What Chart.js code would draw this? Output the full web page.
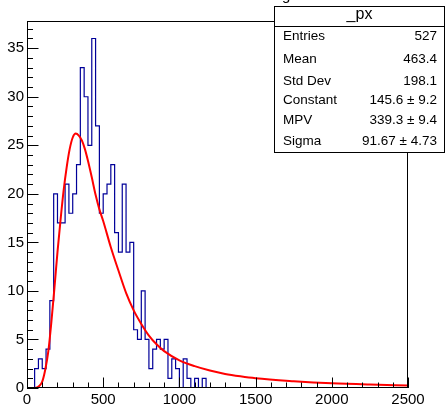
<!DOCTYPE html>
<html><head><meta charset="utf-8">
<script src="https://cdn.jsdelivr.net/npm/chart.js@4/dist/chart.umd.min.js"></script>
<style>html,body{margin:0;padding:0;background:#fff}#wrap{width:445px;height:406px;position:relative}</style>
</head><body><div id="wrap"><canvas id="c" width="445" height="406"></canvas></div>
<script>
// ---- data ----
const binStarts = [0,25,50,75,100,125,150,175,200,225,250,275,300,325,350,375,400,425,450,475,500,525,550,575,600,625,650,675,700,725,750,775,800,825,850,875,900,925,950,975,1000,1025,1050,1075,1100,1125,1150];
const binEnd = 1175;
const counts = [0,0,2,3,2,4,9,20,17,17,21,18,20,23,33,30,25,36,27,18,20,21,23,16,14,21,14,15,6,5,10,5,2,4,5,4,5,1,3,2,0,3,1,0,1,0,1];
const fitX = [40,60,80,100,120,140,160,180,200,220,240,260,280,300,320,340,360,380,400,425,450,475,500,550,600,650,700,750,800,850,900,1000,1100,1200,1300,1400,1500,1750,2000,2250,2500];
const fitY = [0,0.02,0.2,0.65,1.9,3.8,6.8,10.3,14.0,17.3,20.3,22.7,24.6,25.8,26.2,26.0,25.5,24.6,23.4,21.7,19.9,18.4,17.2,14.5,12.1,9.8,8.0,6.6,5.4,4.5,3.8,2.85,2.25,1.8,1.45,1.2,1.0,0.7,0.48,0.35,0.26];
const xTickValues = [0,500,1000,1500,2000,2500];
const yTickValues = [0,5,10,15,20,25,30,35];
const statsTitle = "_px";
const statsLabels = ["Entries","Mean","Std Dev","Constant","MPV","Sigma"];
const statsValues = ["527","463.4","198.1","145.6 \u00b1 9.2","339.3 \u00b1 9.4","91.67 \u00b1 4.73"];
const titleFragment = "g";

const histPoints = binStarts.map((x,i)=>({x:x,y:counts[i]})).concat([{x:binEnd,y:0}]);
const fitPoints = fitX.map((x,i)=>({x:x,y:fitY[i]}));

const FONT = "Liberation Sans, Arial, Helvetica, sans-serif";

const rootPlugin = {
  id:'rootStyle',
  afterDatasetsDraw(chart){
    const c = chart.ctx, a = chart.chartArea, xs = chart.scales.x, ys = chart.scales.y;
    c.save();
    c.strokeStyle = '#000'; c.lineWidth = 1;
    // frame
    c.strokeRect(Math.round(a.left)+0.5, Math.round(a.top)+0.5, Math.round(a.right-a.left)-1, Math.round(a.bottom-a.top)-1);
    c.beginPath();
    // y ticks (inside)
    for (let v=0; v<=ys.max; v+=1){
      const y = Math.round(ys.getPixelForValue(v))+0.5;
      const len = (v%5===0)?11.5:6;
      c.moveTo(a.left, y); c.lineTo(a.left+len, y);
    }
    // x ticks (inside)
    for (let v=0; v<=xs.max; v+=100){
      const x = Math.round(xs.getPixelForValue(v))+0.5;
      const len = (v%500===0)?10.5:5.5;
      c.moveTo(x, a.bottom); c.lineTo(x, a.bottom-len);
    }
    c.stroke();
    c.restore();
  },
  afterDraw(chart){
    const c = chart.ctx;
    c.save();
    // partially hidden title
    c.fillStyle = '#000';
    c.font = '15px ' + FONT;
    c.textBaseline = 'alphabetic';
    c.textAlign = 'left';
    c.fillText(titleFragment, 282, 0);
    // stats box
    const L = 274.5, T = 6.5, R = 444.5, B = 152.5;
    c.fillStyle = '#fff';
    c.fillRect(L, T, R-L, B-T);
    c.strokeStyle = '#000'; c.lineWidth = 1;
    c.strokeRect(L, T, R-L, B-T);
    c.beginPath(); c.moveTo(L, 26.5); c.lineTo(R, 26.5); c.stroke();
    c.fillStyle = '#000';
    c.textBaseline = 'middle';
    c.font = '16px ' + FONT;
    c.textAlign = 'center';
    c.fillText(statsTitle, (L+R)/2, 15);
    c.font = '13.5px ' + FONT;
    const rowsY = [36, 59, 81, 100.5, 120, 141];
    statsLabels.forEach((lab,i)=>{
      c.textAlign = 'left'; c.fillText(lab, 283, rowsY[i]);
      c.textAlign = 'right'; c.fillText(statsValues[i], 437, rowsY[i]);
    });
    c.restore();
  }
};

new Chart(document.getElementById('c'), {
  type:'line',
  data:{datasets:[
    {data:histPoints, stepped:'before', borderColor:'#000099', borderWidth:1.2, pointRadius:0, fill:false, order:2},
    {data:fitPoints, borderColor:'#ff0000', borderWidth:2, pointRadius:0, fill:false, cubicInterpolationMode:'monotone', order:1}
  ]},
  options:{
    responsive:false, animation:false, events:[],
    layout:{padding:{top:21, right:37, left:0, bottom:0}},
    plugins:{legend:{display:false}, tooltip:{enabled:false}, title:{display:false}},
    scales:{
      x:{type:'linear', min:0, max:2500,
         afterBuildTicks:s=>{s.ticks = xTickValues.map(v=>({value:v}));},
         afterFit:s=>{s.height = 18;},
         ticks:{color:'#000', font:{family:FONT, size:15}, padding:3, maxRotation:0, autoSkip:false, callback:v=>String(v)},
         grid:{display:false, drawTicks:false}, border:{display:false}},
      y:{type:'linear', min:0, max:37.8,
         afterBuildTicks:s=>{s.ticks = yTickValues.map(v=>({value:v}));},
         afterFit:s=>{s.width = 27;},
         ticks:{color:'#000', font:{family:FONT, size:15}, padding:3, autoSkip:false, callback:v=>String(v)},
         grid:{display:false, drawTicks:false}, border:{display:false}}
    }
  },
  plugins:[rootPlugin]
});
</script></body></html>
